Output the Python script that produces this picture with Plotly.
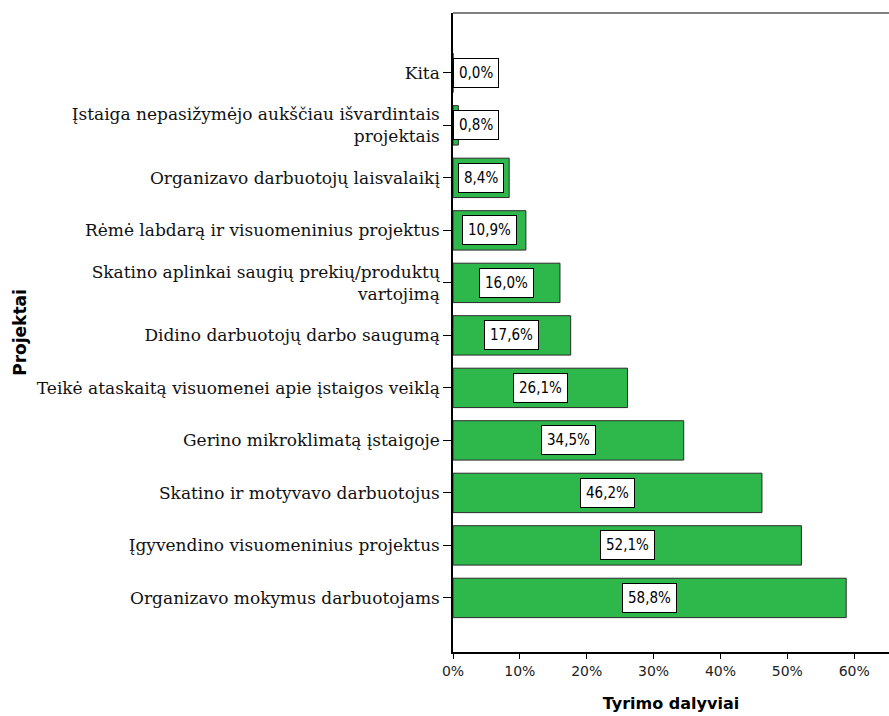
import plotly.graph_objects as go

categories = [
    "Organizavo mokymus darbuotojams",
    "Įgyvendino visuomeninius projektus",
    "Skatino ir motyvavo darbuotojus",
    "Gerino mikroklimatą įstaigoje",
    "Teikė ataskaitą visuomenei apie įstaigos veiklą",
    "Didino darbuotojų darbo saugumą",
    "Skatino aplinkai saugių prekių/produktų<br>vartojimą",
    "Rėmė labdarą ir visuomeninius projektus",
    "Organizavo darbuotojų laisvalaikį",
    "Įstaiga nepasižymėjo aukščiau išvardintais<br>projektais",
    "Kita",
]
values = [58.8, 52.1, 46.2, 34.5, 26.1, 17.6, 16.0, 10.9, 8.4, 0.8, 0.0]
tick_vals = [0, 10, 20, 30, 40, 50, 60]
tick_text = ["0%", "10%", "20%", "30%", "40%", "50%", "60%"]

fig = go.Figure()
fig.add_trace(go.Bar(
    x=values, y=categories, orientation="h",
    marker=dict(color="#2eb84b", line=dict(color="#2a2a2a", width=1)),
    width=0.75, hoverinfo="skip",
))

min_center = 3.5
for c, v in zip(categories, values):
    fig.add_annotation(
        x=max(v / 2, min_center), y=c, xref="x", yref="y",
        text=f"{v:.1f}".replace(".", ",") + "%",
        showarrow=False, bgcolor="white", bordercolor="black", borderwidth=1,
        borderpad=5, font=dict(family="DejaVu Sans Condensed, DejaVu Sans", size=15, color="black"),
    )

fig.add_shape(type="line", xref="paper", yref="paper", x0=0, x1=1, y0=1, y1=1,
              line=dict(color="#808080", width=2))

fig.update_layout(
    width=889, height=716,
    margin=dict(l=453, r=0, t=13, b=64),
    paper_bgcolor="white", plot_bgcolor="white",
    showlegend=False,
    bargap=0.25,
)
fig.update_xaxes(
    range=[0, 65.2], tickvals=tick_vals, ticktext=tick_text,
    showgrid=False, zeroline=False,
    showline=True, linecolor="black", linewidth=1.5,
    ticks="outside", ticklen=5, tickcolor="black",
    tickfont=dict(family="DejaVu Sans", size=14, color="#222"),
    title=dict(text="<b>Tyrimo dalyviai</b>", font=dict(family="DejaVu Sans", size=16, color="black"),
               standoff=20),
)
fig.update_yaxes(
    categoryorder="array", categoryarray=categories,
    range=[-1.03, 11.14],
    showgrid=False, zeroline=False,
    showline=True, linecolor="black", linewidth=1.5,
    ticks="outside", ticklen=8, tickcolor="black",
    tickfont=dict(family="DejaVu Serif", size=17, color="#111"),
    title=dict(text="<b>Projektai</b>", font=dict(family="DejaVu Sans", size=17, color="black"),
               standoff=6),
)

fig.write_html("out.html")
